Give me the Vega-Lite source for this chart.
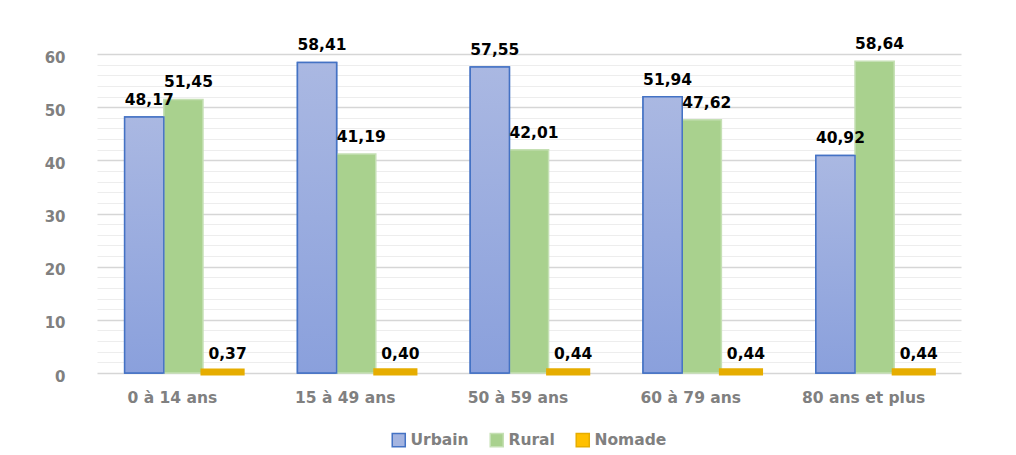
{
  "$schema": "https://vega.github.io/schema/vega-lite/v6.json",
  "width": 864,
  "height": 319,
  "autosize": "none",
  "padding": {"left": 97, "top": 54, "right": 55, "bottom": 82},
  "background": "white",
  "config": {
    "view": {"stroke": null},
    "font": "DejaVu Sans",
    "legend": {"layout": {"bottom": {"anchor": "middle"}}},
    "locale": {"number": {"decimal": ",", "thousands": " ", "grouping": [3], "currency": ["", " €"]}}
  },
  "data": {
    "values": [
      {"age": "0 à 14 ans", "series": "Urbain", "value": 48.17},
      {"age": "0 à 14 ans", "series": "Rural", "value": 51.45},
      {"age": "0 à 14 ans", "series": "Nomade", "value": 0.37},
      {"age": "15 à 49 ans", "series": "Urbain", "value": 58.41},
      {"age": "15 à 49 ans", "series": "Rural", "value": 41.19},
      {"age": "15 à 49 ans", "series": "Nomade", "value": 0.40},
      {"age": "50 à 59 ans", "series": "Urbain", "value": 57.55},
      {"age": "50 à 59 ans", "series": "Rural", "value": 42.01},
      {"age": "50 à 59 ans", "series": "Nomade", "value": 0.44},
      {"age": "60 à 79 ans", "series": "Urbain", "value": 51.94},
      {"age": "60 à 79 ans", "series": "Rural", "value": 47.62},
      {"age": "60 à 79 ans", "series": "Nomade", "value": 0.44},
      {"age": "80 ans et plus", "series": "Urbain", "value": 40.92},
      {"age": "80 ans et plus", "series": "Rural", "value": 58.64},
      {"age": "80 ans et plus", "series": "Nomade", "value": 0.44}
    ]
  },
  "encoding": {
    "x": {
      "field": "age", "type": "nominal",
      "sort": ["0 à 14 ans", "15 à 49 ans", "50 à 59 ans", "60 à 79 ans", "80 ans et plus"],
      "scale": {"paddingInner": 0.32, "paddingOuter": 0.16},
      "axis": {
        "title": null, "domain": false, "ticks": false, "labelAngle": 0,
        "labelOffset": -11, "labelPadding": 17,
        "labelFont": "DejaVu Sans", "labelFontSize": 15.5, "labelFontWeight": "bold", "labelColor": "#808080"
      }
    },
    "xOffset": {"field": "series", "sort": ["Urbain", "Rural", "Nomade"]},
    "y": {
      "field": "value", "type": "quantitative",
      "scale": {"domain": [0, 60], "nice": false},
      "axis": {
        "title": null, "domain": false, "ticks": false,
        "values": [0, 2, 4, 6, 8, 10, 12, 14, 16, 18, 20, 22, 24, 26, 28, 30, 32, 34, 36, 38, 40, 42, 44, 46, 48, 50, 52, 54, 56, 58, 60],
        "labelExpr": "datum.value % 10 === 0 ? datum.value : ''",
        "labelPadding": 32, "labelOffset": 3,
        "labelFont": "DejaVu Sans", "labelFontSize": 15, "labelFontWeight": "bold", "labelColor": "#808080",
        "gridColor": {"condition": {"test": "datum.value % 10 === 0", "value": "#d6d6d6"}, "value": "#ededed"},
        "gridWidth": {"condition": {"test": "datum.value % 10 === 0", "value": 1.5}, "value": 1}
      }
    }
  },
  "layer": [
    {
      "mark": {"type": "bar"},
      "encoding": {
        "fill": {
          "field": "series", "type": "nominal",
          "sort": ["Urbain", "Rural", "Nomade"],
          "scale": {"domain": ["Urbain", "Rural", "Nomade"], "range": ["#a4b4e0", "#a9d18e", "#ffc000"]},
          "legend": {
            "title": null, "orient": "bottom", "direction": "horizontal",
            "symbolType": "square", "symbolSize": 170, "symbolStrokeWidth": 1.5,
            "labelFont": "DejaVu Sans", "labelFontSize": 15.5, "labelFontWeight": "bold", "labelColor": "#808080",
            "columnPadding": 18, "offset": 26
          }
        },
        "stroke": {
          "field": "series", "type": "nominal",
          "sort": ["Urbain", "Rural", "Nomade"],
          "scale": {"domain": ["Urbain", "Rural", "Nomade"], "range": ["#4472c4", "#c5e0b4", "#e6ad00"]},
          "legend": null
        },
        "strokeWidth": {"condition": {"test": "datum.series === 'Nomade'", "value": 5}, "value": 1.5}
      }
    },
    {
      "transform": [{"filter": "datum.series === 'Urbain'"}],
      "mark": {
        "type": "bar", "stroke": "#4472c4", "strokeWidth": 1.5,
        "fill": {"x1": 0, "y1": 0, "x2": 0, "y2": 1, "gradient": "linear",
          "stops": [{"offset": 0, "color": "#aab8e2"}, {"offset": 1, "color": "#8aa0dc"}]}
      }
    },
    {
      "mark": {"type": "text", "baseline": "bottom", "dy": -9, "dx": 5, "font": "DejaVu Sans", "fontSize": 15.5, "fontWeight": "bold", "color": "#000000"},
      "encoding": {
        "text": {"field": "value", "type": "quantitative", "format": ".2f"}
      }
    }
  ]
}
